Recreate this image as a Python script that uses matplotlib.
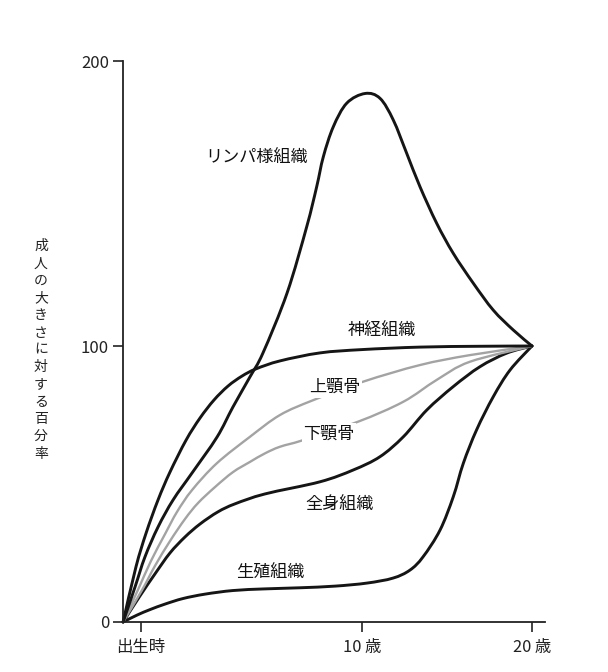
import numpy as np
import matplotlib
matplotlib.use("Agg")
import matplotlib.pyplot as plt
from matplotlib.path import Path
from matplotlib.patches import PathPatch

plt.rcParams['font.family'] = ['Noto Sans CJK JP', 'DejaVu Sans']

# ---- data (age in years, value in % of adult size) ----
neural_age = [-0.81, -0.23, 0.23, 0.77, 1.31, 2.04, 2.67, 3.30, 3.94, 4.57, 5.20, 6.29, 8.10,
              10.0, 13.41, 16.94, 20.0]
neural_val = [0, 19.9, 32.2, 44.2, 54.3, 65.9, 73.9, 80.4, 85.5, 89.1, 91.7, 94.6, 97.5,
              98.7, 99.6, 99.9, 100]

lymph_age = [-0.81, -0.27, 0.18, 0.77, 1.45, 2.31, 3.44, 4.16, 4.93, 5.52, 6.61, 7.50, 7.95,
             8.25, 8.70, 9.31, 10.18, 11.06, 11.84, 12.63, 13.41, 14.39, 15.37,
             16.55, 17.72, 18.90, 20.0]
lymph_val = [0, 12.7, 23.6, 34.4, 44.2, 54.0, 67.0, 77.9, 88.8, 97.5, 118.6, 141.9, 155.9,
             166.4, 176.9, 185.2, 188.6, 186.9, 179.3, 167.6, 155.9, 143.1, 132.5,
             122.0, 112.6, 105.6, 100]

maxilla_age = [-0.81, -0.14, 0.45, 1.09, 1.63, 2.31, 3.43, 4.93, 6.29, 7.80, 10.08, 13.41,
               16.35, 20.0]
maxilla_val = [0, 11.6, 22.1, 31.9, 39.9, 47.8, 57.5, 67.1, 75.0, 80.4, 87.1, 93.1,
               96.7, 100]

mandible_age = [-0.81, 0.05, 0.63, 1.31, 1.99, 2.58, 3.35, 4.16, 4.93, 5.61, 6.29, 7.34,
                9.83, 12.43, 14.39, 16.35, 20.0]
mandible_val = [0, 11.6, 20.3, 29.3, 37.3, 43.1, 48.9, 54.3, 58.0, 61.1, 63.5, 65.9,
                72.6, 79.8, 87.7, 94.3, 100]

body_age = [-0.81, -0.05, 0.63, 1.31, 1.99, 2.67, 3.48, 4.25, 5.61, 8.10, 9.61, 11.06,
            12.43, 13.81, 15.37, 16.94, 18.51, 20.0]
body_val = [0, 9.4, 17.4, 25.0, 30.8, 35.5, 39.9, 42.8, 46.4, 50.8, 55.1, 59.9,
            67.1, 76.8, 85.3, 92.5, 97.4, 100]

genital_age = [-0.81, -0.18, 0.41, 1.09, 1.90, 2.90, 4.16, 5.61, 7.19, 8.78, 10.29, 11.82,
               12.82, 13.59, 14.59, 15.37, 15.96, 16.74, 17.72, 18.71, 20.0]
genital_val = [0, 2.5, 4.5, 6.5, 8.5, 10.1, 11.4, 12.0, 12.4, 13.0, 14.1, 15.9,
               18.8, 23.6, 33.3, 45.4, 57.5, 69.6, 81.6, 91.3, 100]

series_names = ['リンパ様組織', '神経組織', '上顎骨', '下顎骨', '全身組織', '生殖組織']
x_ticks = [0, 10, 20]
x_tick_labels = ['出生時', '10 歳', '20 歳']
y_ticks = [0, 100, 200]
y_label = '成人の大きさに対する百分率'

# ---- scales (non-uniform, as drawn) ----
_xa = np.array([-5.0, 0.0, 10.0, 20.0, 30.0])
_xp = np.array([141 - 5 * 22.1, 141.0, 362.0, 532.0, 702.0])
_ya = np.array([-50.0, 0.0, 100.0, 200.0, 300.0])
_yp = np.array([-138.0, 0.0, 276.0, 561.0, 846.0])

def xf(a): return np.interp(a, _xa, _xp)
def xi(p): return np.interp(p, _xp, _xa)
def yf(v): return np.interp(v, _ya, _yp)
def yi(p): return np.interp(p, _yp, _ya)


def smooth_path(xs, ys):
    """Smooth curve (Catmull-Rom as cubic Bezier) through the given points."""
    P = np.column_stack([xf(np.asarray(xs, float)), yf(np.asarray(ys, float))])
    n = len(P)
    verts = [P[0]]
    codes = [Path.MOVETO]
    for i in range(n - 1):
        p0 = P[i - 1] if i > 0 else P[i]
        p1, p2 = P[i], P[i + 1]
        p3 = P[i + 2] if i + 2 < n else P[i + 1]
        verts += [p1 + (p2 - p0) / 6.0, p2 - (p3 - p1) / 6.0, p2]
        codes += [Path.CURVE4] * 3
    V = np.array(verts)
    return Path(np.column_stack([xi(V[:, 0]), yi(V[:, 1])]), codes)


W, H = 608, 672
fig = plt.figure(figsize=(W / 100, H / 100), dpi=100)
ax = fig.add_axes([123 / W, 1 - 622 / H, (545 - 123) / W, (622 - 61) / H])
ax.set_xscale('function', functions=(xf, xi))
ax.set_yscale('function', functions=(yf, yi))
ax.set_xlim(xi(123), xi(545))
ax.set_ylim(0, 200)

black = '#151515'
gray = '#a3a3a3'
curves = [
    (genital_age, genital_val, black, 2.1),
    (body_age, body_val, black, 2.1),
    (mandible_age, mandible_val, gray, 1.7),
    (maxilla_age, maxilla_val, gray, 1.7),
    (lymph_age, lymph_val, black, 2.1),
    (neural_age, neural_val, black, 2.1),
]
for xs, ys, c, lw in curves:
    patch = PathPatch(smooth_path(xs, ys), facecolor='none', edgecolor=c, lw=lw,
                      joinstyle='round', capstyle='round', transform=ax.transData,
                      clip_on=False)
    ax.add_patch(patch)

# series labels (placed in pixel coordinates of the figure)
label_px = [(257, 157), (382, 330), (335, 387), (329, 434), (340, 504), (270, 573)]
for name, (px, py) in zip(series_names, label_px):
    fig.text(px / W, 1 - py / H, name, fontsize=12.3, ha='center', va='center', color='#111111',
             bbox=dict(facecolor='white', edgecolor='none', pad=1.2), zorder=5)

for s in ['top', 'right']:
    ax.spines[s].set_visible(False)
for s in ['left', 'bottom']:
    ax.spines[s].set_linewidth(1.3)
    ax.spines[s].set_color('#222222')

ax.set_xticks(x_ticks)
ax.set_xticklabels(x_tick_labels, fontsize=11.8)
ax.set_yticks(y_ticks)
ax.set_yticklabels([str(v) for v in y_ticks], fontsize=12)
ax.minorticks_off()
ax.tick_params(axis='both', direction='out', length=7, width=1.2, color='#222222',
               labelcolor='#222222')
ax.tick_params(axis='y', pad=3)
ax.tick_params(axis='x', pad=5)

# vertical (stacked) axis label
for k, ch in enumerate(y_label):
    fig.text(41 / W, 1 - (246 + 17.3 * k) / H, ch, fontsize=10, ha='center', va='center',
             color='#222222')

fig.savefig('out.png', dpi=100)
